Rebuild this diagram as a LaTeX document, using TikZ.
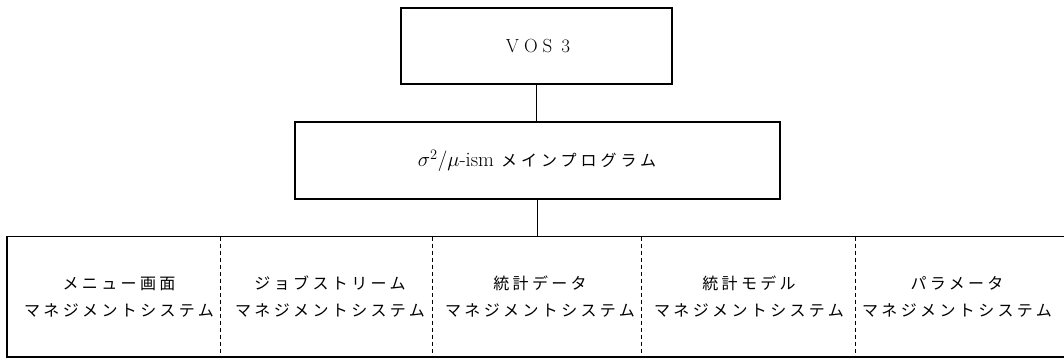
\documentclass[tikz,border=0pt]{standalone}
\usepackage{fontspec}
\newfontfamily\jpfont[LetterSpace=21]{Noto Sans CJK JP}
\newfontfamily\jpwide[LetterSpace=25]{Noto Sans CJK JP}
\begin{document}
\begin{tikzpicture}[x=1pt,y=-1pt,
  box/.style={draw,line width=1.1pt,rectangle,inner sep=0pt},
  cell/.style={rectangle,inner sep=0pt,align=center,font=\fontsize{16}{27}\selectfont\jpfont},
  sep/.style={line width=0.7pt,dash pattern=on 4pt off 3pt},
  link/.style={line width=1pt}]
\useasboundingbox (0,0) rectangle (1064,359);
\node[box,minimum width=271pt,minimum height=76pt] (vos) at (536.5,46) {};
\node (vostxt) at (538,46) {\fontsize{19}{21}\selectfont V\hspace{5pt}O\hspace{5pt}S\hspace{9pt}3};
\node[box,minimum width=485pt,minimum height=77pt] (main) at (537.5,160.5) {};
\node (maintxt) at (537,161) {\fontsize{20.5}{22}\selectfont $\sigma^2/\mu$-ism\hspace{7pt}{\jpwide\fontsize{16}{18}\selectfont メインプログラム}};
% bottom frame
\coordinate (btl) at (7,236.5);
\coordinate (bbl) at (7,357);
\coordinate (btr) at (1064,236.5);
\coordinate (bbr) at (1064,357);
\draw[line width=1.1pt] (btr) -- (btl) -- (bbl) -- (bbr);
\coordinate (d1t) at (220,236.5); \coordinate (d1b) at (220,357);
\coordinate (d2t) at (432,236.5); \coordinate (d2b) at (432,357);
\coordinate (d3t) at (641,236.5); \coordinate (d3b) at (641,357);
\coordinate (d4t) at (855,236.5); \coordinate (d4b) at (855,357);
\draw[sep] (d1t) -- (d1b);
\draw[sep] (d2t) -- (d2b);
\draw[sep] (d3t) -- (d3b);
\draw[sep] (d4t) -- (d4b);
% connectors
\draw[link] (vos.south) -- (vos.south |- main.north);
\draw[link] (main.south) -- (main.south |- btl);
% cells
\node[cell] (c1) at (119,297) {メニュー画面\\マネジメントシステム};
\node[cell] (c2) at (330,297) {ジョブストリーム\\マネジメントシステム};
\node[cell] (c3) at (540,297) {統計データ\\マネジメントシステム};
\node[cell] (c4) at (749,297) {統計モデル\\マネジメントシステム};
\node[cell] (c5) at (957,297) {パラメータ\\マネジメントシステム};
\end{tikzpicture}
\end{document}
